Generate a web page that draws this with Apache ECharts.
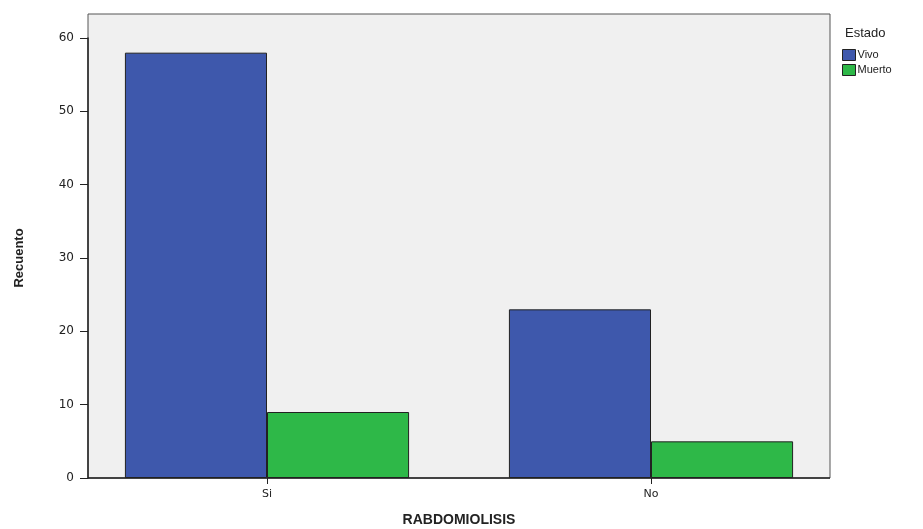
<!DOCTYPE html>
<html>
<head>
<meta charset="utf-8">
<script src="https://cdn.jsdelivr.net/npm/echarts@6/dist/echarts.min.js"></script>
<style>html,body{margin:0;padding:0;background:#fff}#c{width:923px;height:529px}</style>
</head>
<body>
<div id="c"></div>
<script>
const categories = ['Si', 'No'];
const vivo = [58, 23];
const muerto = [9, 5];
const yTicks = [0, 10, 20, 30, 40, 50, 60];

const chart = echarts.init(document.getElementById('c'));
const barStyle = (c) => ({ color: c, borderColor: '#222', borderWidth: 1 });
chart.setOption({
  animation: false,
  backgroundColor: '#fff',
  title: {
    text: 'Estado', left: 840, top: 22,
    textStyle: { fontFamily: 'Liberation Sans, Arial', fontSize: 13, fontWeight: 'normal', color: '#222' }
  },
  legend: {
    orient: 'vertical', left: 837, top: 44, icon: 'rect',
    itemWidth: 13, itemHeight: 11, itemGap: 3,
    textStyle: { fontFamily: 'Liberation Sans, Arial', fontSize: 11, color: '#222', padding: [0, 0, 0, -3] },
    itemStyle: { borderColor: '#222', borderWidth: 1 },
    data: ['Vivo', 'Muerto']
  },
  graphic: [{
    type: 'rect', z: -1, silent: true,
    shape: { x: 88, y: 14, width: 742, height: 464 },
    style: { fill: '#f0f0f0', stroke: '#555', lineWidth: 1 }
  }, {
    type: 'line', z: 10, silent: true,
    shape: { x1: 88, y1: 478, x2: 830, y2: 478 },
    style: { stroke: '#222', lineWidth: 1.5 }
  }],
  grid: { left: 75, right: 80, top: 38, bottom: 51, containLabel: false, outerBoundsMode: 'none' },
  xAxis: {
    type: 'category', data: categories,
    name: 'RABDOMIOLISIS', nameLocation: 'middle', nameGap: 35,
    nameTextStyle: { fontFamily: 'Liberation Sans, Arial', fontSize: 14, fontWeight: 'bold', color: '#222' },
    axisLine: { show: false },
    axisTick: { show: true, alignWithLabel: true, length: 6, lineStyle: { color: '#222' } },
    axisLabel: { fontFamily: 'DejaVu Sans, Verdana', fontSize: 11, color: '#222', margin: 11 }
  },
  yAxis: {
    type: 'value', min: 0, max: 60, interval: 10, offset: -13,
    name: 'Recuento', nameLocation: 'middle', nameGap: 62, nameRotate: 90,
    nameTextStyle: { fontFamily: 'Liberation Sans Narrow, Liberation Sans, Arial', fontSize: 13, fontWeight: 'bold', color: '#222' },
    axisLine: { show: true, lineStyle: { color: '#222', width: 1.5 } },
    axisTick: { show: true, length: 8, lineStyle: { color: '#222' } },
    splitLine: { show: false },
    axisLabel: {
      fontFamily: 'DejaVu Sans, Verdana', fontSize: 12, color: '#222', margin: 14,
      formatter: (v) => (yTicks.indexOf(v) >= 0 ? String(v) : '')
    }
  },
  series: [
    { name: 'Vivo', type: 'bar', data: vivo, barGap: '0%', barCategoryGap: '26%', itemStyle: barStyle('#3e58ac') },
    { name: 'Muerto', type: 'bar', data: muerto, barGap: '0%', barCategoryGap: '26%', itemStyle: barStyle('#2eb848') }
  ]
});
</script>
</body>
</html>
